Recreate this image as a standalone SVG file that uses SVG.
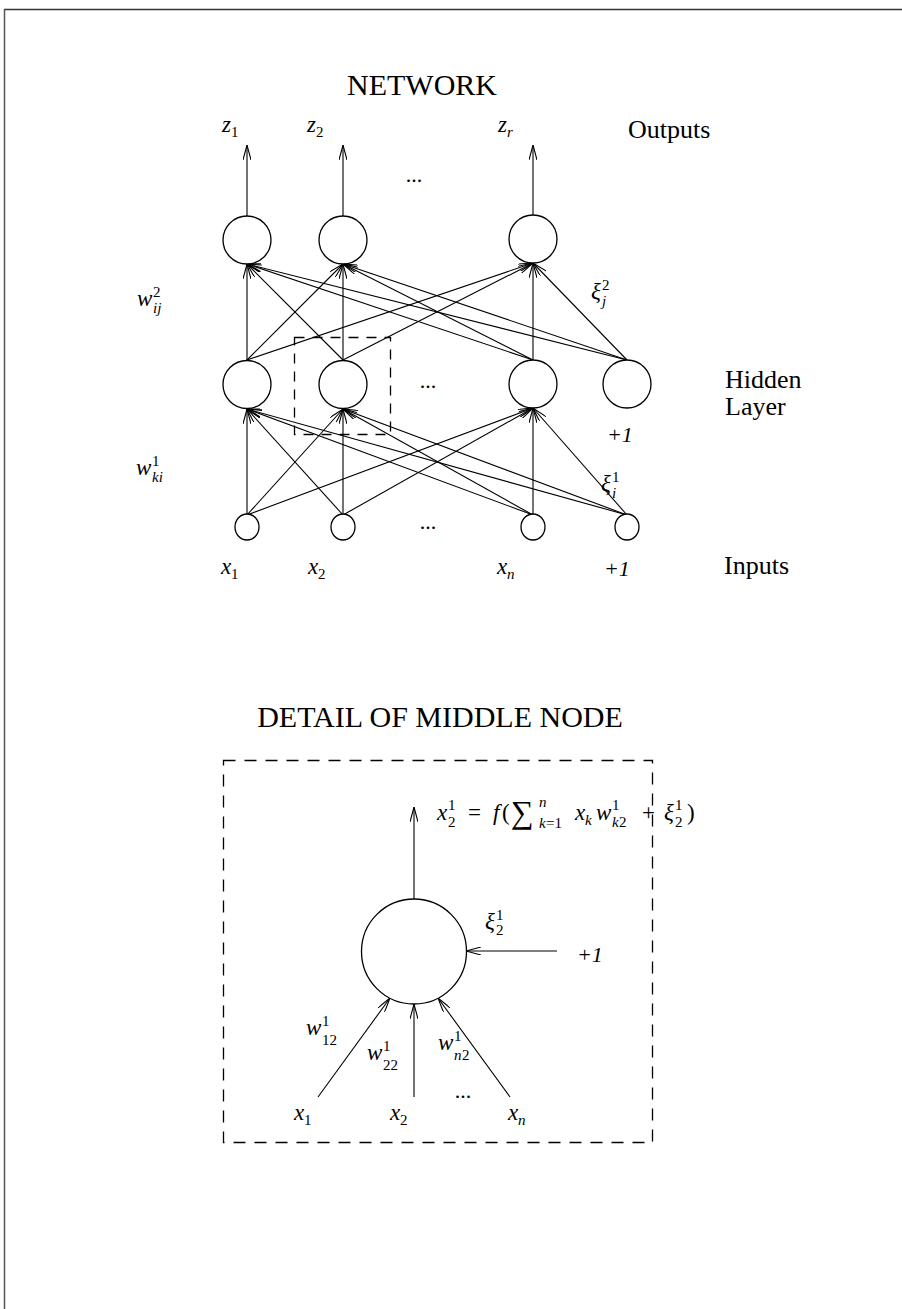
<svg xmlns="http://www.w3.org/2000/svg" width="902" height="1309" viewBox="0 0 902 1309">
<style>
.t{font-family:"Liberation Serif","Times New Roman",serif;fill:#000}
.m{font-family:"Liberation Serif","Times New Roman",serif;font-style:italic;fill:#000}
.n{fill:#fff;stroke:#000;stroke-width:1.3}
.c{stroke:#000;stroke-width:1.1;fill:none;marker-end:url(#ah)}
.d{fill:none;stroke:#000;stroke-width:1.3;stroke-dasharray:12 9}
</style>
<defs>
<marker id="ah" viewBox="0 0 15 8" refX="15" refY="4" markerWidth="15" markerHeight="8" markerUnits="userSpaceOnUse" orient="auto">
<path d="M0,0 L15,4 L0,8" fill="none" stroke="#000" stroke-width="1.1"/>
</marker>
</defs>
<rect width="902" height="1309" fill="#fff"/>
<g id="border">
<line x1="4" y1="9.5" x2="902" y2="9.5" stroke="#333" stroke-width="1.5"/>
<line x1="4.5" y1="9" x2="4.5" y2="1309" stroke="#555" stroke-width="1.5"/>
</g>
<g id="titles">
<text class="t" x="422" y="95" font-size="30" text-anchor="middle">NETWORK</text>
<text class="t" x="440" y="727" font-size="30" text-anchor="middle">DETAIL OF MIDDLE NODE</text>
<text class="t" x="628" y="138" font-size="26">Outputs</text>
<text class="t" x="725" y="388" font-size="26">Hidden</text>
<text class="t" x="725" y="415" font-size="26">Layer</text>
<text class="t" x="724" y="574" font-size="26">Inputs</text>
</g>
<g id="connectors">
<line class="c" x1="247" y1="216" x2="247" y2="145"/>
<line class="c" x1="343" y1="216" x2="343" y2="145"/>
<line class="c" x1="533" y1="215" x2="533" y2="145"/>
<line class="c" x1="247" y1="360" x2="247" y2="264"/>
<line class="c" x1="343" y1="360" x2="247" y2="264"/>
<line class="c" x1="533" y1="360" x2="247" y2="264"/>
<line class="c" x1="627" y1="360" x2="247" y2="264"/>
<line class="c" x1="247" y1="360" x2="343" y2="264"/>
<line class="c" x1="343" y1="360" x2="343" y2="264"/>
<line class="c" x1="533" y1="360" x2="343" y2="264"/>
<line class="c" x1="627" y1="360" x2="343" y2="264"/>
<line class="c" x1="247" y1="360" x2="533" y2="263"/>
<line class="c" x1="343" y1="360" x2="533" y2="263"/>
<line class="c" x1="533" y1="360" x2="533" y2="263"/>
<line class="c" x1="627" y1="360" x2="533" y2="263"/>
<line class="c" x1="247" y1="515" x2="247" y2="409"/>
<line class="c" x1="343" y1="515" x2="247" y2="409"/>
<line class="c" x1="533" y1="515" x2="247" y2="409"/>
<line class="c" x1="627" y1="515" x2="247" y2="409"/>
<line class="c" x1="247" y1="515" x2="343" y2="409"/>
<line class="c" x1="343" y1="515" x2="343" y2="409"/>
<line class="c" x1="533" y1="515" x2="343" y2="409"/>
<line class="c" x1="627" y1="515" x2="343" y2="409"/>
<line class="c" x1="247" y1="515" x2="533" y2="408"/>
<line class="c" x1="343" y1="515" x2="533" y2="408"/>
<line class="c" x1="533" y1="515" x2="533" y2="408"/>
<line class="c" x1="627" y1="515" x2="533" y2="408"/>
<line class="c" x1="414" y1="899" x2="414" y2="807"/>
<line class="c" x1="557" y1="951" x2="466" y2="951"/>
<line class="c" x1="318" y1="1097" x2="390" y2="998"/>
<line class="c" x1="414" y1="1097" x2="414" y2="1004"/>
<line class="c" x1="510" y1="1097" x2="438" y2="998"/>
</g>
<g id="outputs">
<circle class="n" cx="247" cy="240" r="24"/>
<circle class="n" cx="343" cy="240" r="24"/>
<circle class="n" cx="533" cy="239" r="24"/>
</g>
<g id="hidden">
<circle class="n" cx="247" cy="384.5" r="24"/>
<circle class="n" cx="343" cy="384.5" r="24"/>
<circle class="n" cx="533" cy="384" r="24"/>
<circle class="n" cx="627" cy="384" r="24"/>
</g>
<g id="inputs">
<ellipse class="n" cx="247" cy="527" rx="12" ry="13"/>
<ellipse class="n" cx="343" cy="527" rx="12" ry="13"/>
<ellipse class="n" cx="533" cy="527" rx="12" ry="13"/>
<ellipse class="n" cx="627" cy="527" rx="12" ry="13"/>
</g>
<g id="highlight">
<rect class="d" x="294.5" y="337.5" width="96" height="97" style="stroke-dasharray:10 8"/>
</g>
<g id="network-labels">
<text class="m" x="222" y="132" font-size="23">z</text><text class="t" x="231" y="137" font-size="15">1</text>
<text class="m" x="307" y="132" font-size="23">z</text><text class="t" x="316" y="137" font-size="15">2</text>
<text class="m" x="498" y="132" font-size="23">z</text><text class="m" x="507" y="137" font-size="15">r</text>
<text class="t" x="414" y="182" font-size="22" text-anchor="middle">...</text>
<text class="t" x="428" y="388" font-size="22" text-anchor="middle">...</text>
<text class="t" x="428" y="529" font-size="22" text-anchor="middle">...</text>
<text class="m" x="137" y="306" font-size="23">w</text><text class="t" x="153" y="297" font-size="15">2</text><text class="m" x="153" y="313" font-size="15">ij</text>
<text class="m" x="591" y="299" font-size="23">ξ</text><text class="t" x="602" y="290" font-size="15">2</text><text class="m" x="602" y="306" font-size="15">j</text>
<text class="m" x="607" y="442" font-size="22">+1</text>
<text class="m" x="136" y="475" font-size="23">w</text><text class="t" x="152" y="466" font-size="15">1</text><text class="m" x="152" y="482" font-size="15">ki</text>
<text class="m" x="601" y="491" font-size="23">ξ</text><text class="t" x="612" y="482" font-size="15">1</text><text class="m" x="612" y="498" font-size="15">i</text>
<text class="m" x="221" y="574" font-size="23">x</text><text class="t" x="231" y="579" font-size="15">1</text>
<text class="m" x="308" y="574" font-size="23">x</text><text class="t" x="318" y="579" font-size="15">2</text>
<text class="m" x="497" y="574" font-size="23">x</text><text class="m" x="507" y="579" font-size="15">n</text>
<text class="m" x="604" y="576" font-size="22">+1</text>
</g>
<g id="detail">
<rect class="d" x="223.5" y="760.5" width="429" height="382"/>
<circle class="n" cx="414" cy="951.5" r="52.5"/>
</g>
<g id="detail-labels">
<text class="m" x="437" y="820" font-size="23">x</text><text class="t" x="448" y="810" font-size="15">1</text><text class="t" x="448" y="827" font-size="15">2</text>
<text class="t" x="468" y="820" font-size="23">=</text>
<text class="m" x="493" y="820" font-size="23">f</text><text class="t" x="502" y="820" font-size="23">(</text>
<text class="t" x="511" y="823" font-size="32">∑</text>
<text class="m" x="539" y="807" font-size="15">n</text><text class="m" x="539" y="828" font-size="15">k</text><text class="t" x="546" y="828" font-size="15">=1</text>
<text class="m" x="575" y="820" font-size="23">x</text><text class="m" x="585" y="825" font-size="15">k</text>
<text class="m" x="596" y="820" font-size="23">w</text><text class="t" x="612" y="810" font-size="15">1</text><text class="m" x="612" y="827" font-size="15">k</text><text class="t" x="619" y="827" font-size="15">2</text>
<text class="t" x="642" y="820" font-size="23">+</text>
<text class="m" x="664" y="820" font-size="23">ξ</text><text class="t" x="675" y="810" font-size="15">1</text><text class="t" x="675" y="827" font-size="15">2</text>
<text class="t" x="687" y="820" font-size="23">)</text>
<text class="m" x="485" y="929" font-size="23">ξ</text><text class="t" x="496" y="920" font-size="15">1</text><text class="t" x="496" y="935" font-size="15">2</text>
<text class="m" x="577" y="962" font-size="22">+1</text>
<text class="m" x="306" y="1035" font-size="23">w</text><text class="t" x="322" y="1026" font-size="15">1</text><text class="t" x="322" y="1045" font-size="15">12</text>
<text class="m" x="367" y="1060" font-size="23">w</text><text class="t" x="383" y="1051" font-size="15">1</text><text class="t" x="383" y="1070" font-size="15">22</text>
<text class="m" x="438" y="1050" font-size="23">w</text><text class="t" x="454" y="1041" font-size="15">1</text><text class="m" x="454" y="1060" font-size="15">n</text><text class="t" x="462" y="1060" font-size="15">2</text>
<text class="t" x="463" y="1098" font-size="22" text-anchor="middle">...</text>
<text class="m" x="294" y="1120" font-size="23">x</text><text class="t" x="304" y="1125" font-size="15">1</text>
<text class="m" x="390" y="1120" font-size="23">x</text><text class="t" x="400" y="1125" font-size="15">2</text>
<text class="m" x="508" y="1120" font-size="23">x</text><text class="m" x="518" y="1125" font-size="15">n</text>
</g>
</svg>
